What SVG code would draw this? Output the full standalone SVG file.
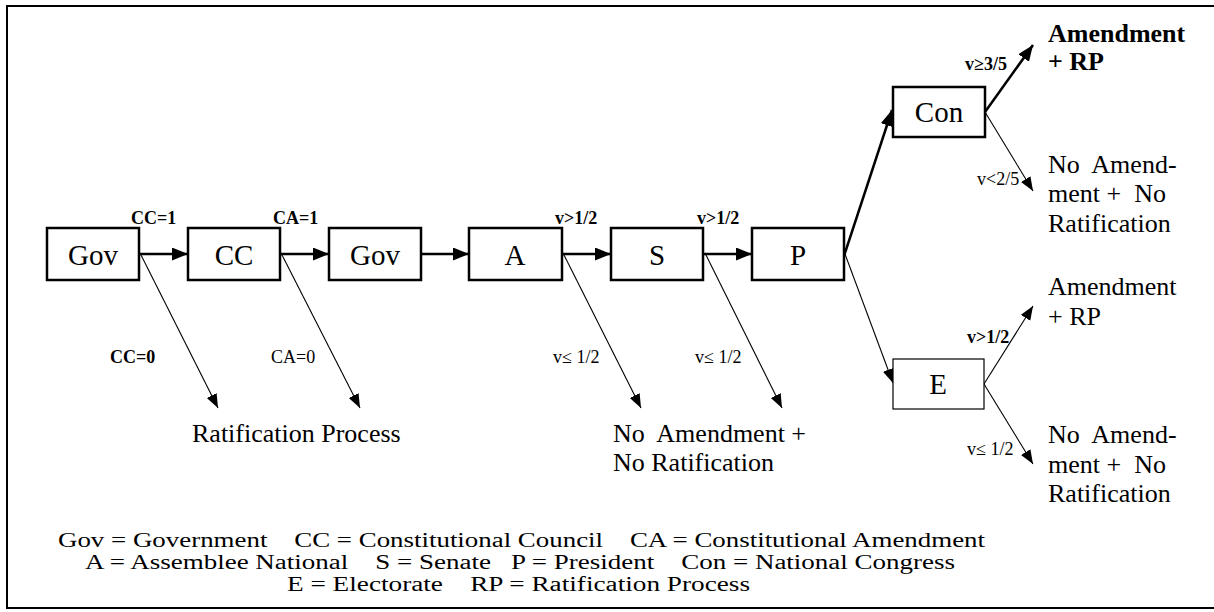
<svg xmlns="http://www.w3.org/2000/svg" width="1214" height="612" viewBox="0 0 1214 612">
  <defs>
    <marker id="headBig" markerUnits="userSpaceOnUse" markerWidth="17" markerHeight="14" refX="16" refY="6.5" orient="auto">
      <path d="M0,0 L16,6.5 L0,13 z" fill="#000"/>
    </marker>
    <marker id="headSmall" markerUnits="userSpaceOnUse" markerWidth="15" markerHeight="12" refX="14" refY="5.5" orient="auto">
      <path d="M0,0 L14,5.5 L0,11 z" fill="#000"/>
    </marker>
    <style>
      text { font-family: "Liberation Serif", "Times New Roman", serif; fill: #000; }
      .box { fill: #fff; stroke: #000; stroke-width: 2.5; }
      .boxThin { fill: #fff; stroke: #000; stroke-width: 1.2; }
      .node { font-family: "Liberation Serif", serif; font-size: 29px; text-anchor: middle; }
      .thick { stroke: #000; stroke-width: 2.5; fill: none; marker-end: url(#headBig); }
      .thin { stroke: #000; stroke-width: 1.1; fill: none; marker-end: url(#headSmall); }
      .lbl { font-family: "Liberation Serif", serif; font-size: 18px; }
      .lblB { font-family: "Liberation Serif", serif; font-size: 18px; font-weight: bold; }
      .out { font-family: "Liberation Serif", serif; font-size: 26px; white-space: pre; }
      .outB { font-family: "Liberation Serif", serif; font-size: 26px; font-weight: bold; white-space: pre; }
      .legend { font-family: "Liberation Serif", serif; font-size: 20.5px; white-space: pre; }
    </style>
  </defs>

  <!-- outer frame (open on the right) -->
  <path d="M1214,6 H7 V608 H1214" fill="none" stroke="#000" stroke-width="2"/>

  <!-- connectors -->
  <g id="connectors">
    <line class="thick" x1="139" y1="254" x2="188" y2="254"/>
    <line class="thick" x1="280" y1="254" x2="329" y2="254"/>
    <line class="thick" x1="421" y1="254" x2="469" y2="254"/>
    <line class="thick" x1="563" y1="254" x2="611" y2="254"/>
    <line class="thick" x1="704" y1="254" x2="752" y2="254"/>

    <line class="thin" x1="140" y1="253" x2="218" y2="408"/>
    <line class="thin" x1="281" y1="253" x2="360" y2="408"/>
    <line class="thin" x1="563" y1="253" x2="641" y2="408"/>
    <line class="thin" x1="705" y1="253" x2="782" y2="408"/>

    <line class="thick" x1="844" y1="256" x2="892" y2="110"/>
    <line class="thin" x1="845" y1="254" x2="893" y2="383"/>

    <line class="thick" x1="985" y1="112" x2="1033" y2="45"/>
    <line class="thin" x1="985" y1="112" x2="1033" y2="191"/>
    <line class="thin" x1="984" y1="384" x2="1033" y2="306"/>
    <line class="thin" x1="984" y1="384" x2="1033" y2="464"/>
  </g>

  <!-- connector labels -->
  <g id="edge-labels">
    <text class="lblB" x="131" y="224">CC=1</text>
    <text class="lblB" x="273" y="224">CA=1</text>
    <text class="lblB" x="555" y="224">v&gt;1/2</text>
    <text class="lblB" x="697" y="224">v&gt;1/2</text>
    <text class="lblB" x="110" y="363">CC=0</text>
    <text class="lbl" x="271" y="363">CA=0</text>
    <text class="lbl" x="553" y="363">v≤ 1/2</text>
    <text class="lbl" x="695" y="363">v≤ 1/2</text>
    <text class="lblB" x="965" y="70">v≥3/5</text>
    <text class="lbl" x="977" y="185">v&lt;2/5</text>
    <text class="lblB" x="967" y="343">v&gt;1/2</text>
    <text class="lbl" x="967" y="455">v≤ 1/2</text>
  </g>

  <!-- decision nodes -->
  <g id="node-gov1"><rect class="box" x="47" y="228" width="92" height="52"/><text class="node" x="93" y="265">Gov</text></g>
  <g id="node-cc"><rect class="box" x="188" y="228" width="92" height="52"/><text class="node" x="234" y="265">CC</text></g>
  <g id="node-gov2"><rect class="box" x="329" y="228" width="92" height="52"/><text class="node" x="375" y="265">Gov</text></g>
  <g id="node-a"><rect class="box" x="469" y="228" width="93" height="52"/><text class="node" x="515" y="265">A</text></g>
  <g id="node-s"><rect class="box" x="611" y="228" width="92" height="52"/><text class="node" x="657" y="265">S</text></g>
  <g id="node-p"><rect class="box" x="752" y="228" width="92" height="52"/><text class="node" x="798" y="265">P</text></g>
  <g id="node-con"><rect class="box" x="893" y="87" width="92" height="50"/><text class="node" x="939" y="122">Con</text></g>
  <g id="node-e"><rect class="boxThin" x="893" y="359" width="91" height="50"/><text class="node" x="938" y="394">E</text></g>

  <!-- outcomes -->
  <g id="outcome-rp1"><text class="out" x="192" y="442">Ratification Process</text></g>
  <g id="outcome-none1"><text class="out" x="613" y="442">No  Amendment +</text><text class="out" x="613" y="471">No Ratification</text></g>
  <g id="outcome-con-yes"><text class="outB" x="1048" y="42">Amendment</text><text class="outB" x="1048" y="70">+ RP</text></g>
  <g id="outcome-con-no"><text class="out" x="1048" y="173">No  Amend-</text><text class="out" x="1048" y="202">ment +  No</text><text class="out" x="1048" y="232">Ratification</text></g>
  <g id="outcome-e-yes"><text class="out" x="1048" y="295">Amendment</text><text class="out" x="1048" y="325">+ RP</text></g>
  <g id="outcome-e-no"><text class="out" x="1048" y="443">No  Amend-</text><text class="out" x="1048" y="473">ment +  No</text><text class="out" x="1048" y="502">Ratification</text></g>

  <!-- key -->
  <g id="legend">
    <text class="legend" x="58" y="547" textLength="927" lengthAdjust="spacingAndGlyphs">Gov = Government    CC = Constitutional Council    CA = Constitutional Amendment</text>
    <text class="legend" x="85" y="569" textLength="870" lengthAdjust="spacingAndGlyphs">A = Assemblee National    S = Senate   P = President    Con = National Congress</text>
    <text class="legend" x="287" y="591" textLength="463" lengthAdjust="spacingAndGlyphs">E = Electorate    RP = Ratification Process</text>
  </g>
</svg>
